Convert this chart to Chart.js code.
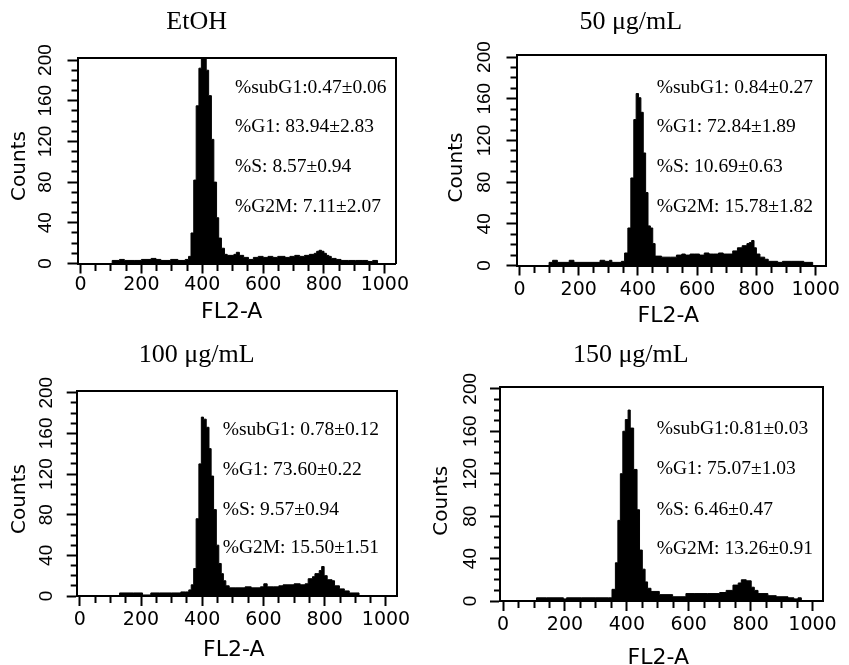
<!DOCTYPE html>
<html>
<head>
<meta charset="utf-8">
<script src="https://cdn.jsdelivr.net/npm/chart.js@4.4.1/dist/chart.umd.min.js"></script>
<style>
html,body{margin:0;padding:0;background:#fff;}
body{width:849px;height:665px;position:relative;overflow:hidden;}
canvas{position:absolute;display:block;}
</style>
</head>
<body>
<canvas id="c0"></canvas>
<canvas id="c1"></canvas>
<canvas id="c2"></canvas>
<canvas id="c3"></canvas>
<script>
// ---------------- data ----------------
const panelTitles = ['EtOH', '50 μg/mL', '100 μg/mL', '150 μg/mL'];
const xTitle = 'FL2-A';
const yTitle = 'Counts';

const xTickValues = [0,50,100,150,200,250,300,350,400,450,500,550,600,650,700,750,800,850,900,950,1000];
const xTickLabels = [0,200,400,600,800,1000];
const yTickValues = [0,10,20,30,40,50,60,70,80,90,100,110,120,130,140,150,160,170,180,190,200];
const yTickLabels = [0,40,80,120,160,200];

const statsEtOH = ['%subG1:0.47±0.06', '%G1: 83.94±2.83', '%S: 8.57±0.94', '%G2M: 7.11±2.07'];
const stats50   = ['%subG1: 0.84±0.27', '%G1: 72.84±1.89', '%S: 10.69±0.63', '%G2M: 15.78±1.82'];
const stats100  = ['%subG1: 0.78±0.12', '%G1: 73.60±0.22', '%S: 9.57±0.94', '%G2M: 15.50±1.51'];
const stats150  = ['%subG1:0.81±0.03', '%G1: 75.07±1.03', '%S: 6.46±0.47', '%G2M: 13.26±0.91'];

// histogram bins: channel where a bin starts, and its count
const chanEtOH  = [0,104,128,144,176,200,232,248,264,296,320,344,355,363,372,380,389,397,405,413,421,430,438,447,454,463,473,482,504,512,522,536,552,568,584,600,616,632,648,672,688,704,720,736,752,768,776,784,792,800,808,816,824,840,856,880,904,928,944,960,976,1023];
const countEtOH = [0,3,4,3,3,4,5,4,3,4,3,4,7,30,82,155,192,201,203,190,165,122,80,45,25,15,9,8,9,11,8,6,4,6,7,6,7,6,7,6,7,8,7,8,9,10,12,13,12,10,8,7,5,4,3,3,3,3,2,3,0,0];

const chan50  = [0,100,112,128,168,184,272,288,304,312,344,355,366,376,386,394,402,410,418,426,434,442,450,458,480,510,530,548,560,576,592,608,624,640,656,672,688,704,720,736,752,768,776,784,792,800,812,828,840,872,888,920,944,960,990,1023];
const count50 = [0,3,5,3,5,3,5,4,5,3,4,12,36,84,140,165,161,147,108,70,38,36,21,9,8,8,10,11,10,11,11,10,12,11,11,12,11,11,14,17,19,21,22,24,17,11,8,6,4,3,4,4,4,3,0,0];

const chan100  = [0,130,176,205,232,260,300,330,345,356,364,372,380,389,397,404,413,422,429,437,446,454,462,469,477,488,510,540,560,590,601,612,632,650,664,680,700,720,736,746,760,768,782,790,798,808,824,832,848,864,880,912,1023];
const count100 = [0,3,3,1,3,3,3,4,4,6,11,27,76,130,176,174,166,145,118,85,50,32,22,15,10,8,8,9,8,9,12,9,9,10,11,11,12,11,12,17,19,22,25,29,20,16,15,10,7,5,3,0,0];

const chan150  = [0,108,140,195,205,254,300,340,352,363,371,379,387,395,404,411,422,433,441,450,459,467,478,505,548,591,620,660,700,721,743,760,770,786,802,812,824,856,883,921,940,953,964,1023];
const count150 = [0,3,3,2,3,3,3,3,11,36,76,120,160,171,180,163,124,86,48,30,18,12,9,6,4,7,7,7,8,10,15,17,20,19,13,10,7,5,4,3,2,3,0,0];

// ---------------- layout / style ----------------
const X_MIN = -10, X_MAX = 1035, Y_MIN = 0, Y_MAX = 202;
const TICK_LEN = 10;
const FONT_SANS = "'DejaVu Sans', sans-serif";
const FONT_NARROW = "'Liberation Sans Narrow', 'Liberation Sans', Arial, sans-serif";
const FONT_SERIF = "'Liberation Serif', 'Times New Roman', serif";
const Y_TICK_SIZE = 19;

const panels = [
  {id:'c0', cx:0,   cy:0,   w:424, h:332, box:[77.5,58,395.5,263.5],  title:[196.7,21.7], statsX:235,   statsY:[88.3,127.3,167.3,207.3], yT:[20,166],    xT:[231.7,312.5], yLabelX:45.5,   xPad:0.5, chan:chanEtOH, count:countEtOH, stats:statsEtOH},
  {id:'c1', cx:425, cy:0,   w:424, h:332, box:[516.5,55,826,265.5],   title:[630.8,22],   statsX:656.7, statsY:[88.3,127.3,167.3,206.7], yT:[456.7,167.5], xT:[668.3,315.8], yLabelX:484.3, xPad:3, chan:chan50, count:count50, stats:stats50},
  {id:'c2', cx:0,   cy:332, w:424, h:333, box:[76.7,390.7,396.7,596], title:[196.7,355],  statsX:222.7, statsY:[430,470,510,548.3],     yT:[20,499],     xT:[233.8,650],   yLabelX:47,   xPad:2.6, chan:chan100, count:count100, stats:stats100},
  {id:'c3', cx:425, cy:332, w:424, h:333, box:[500,386.7,823.3,601],  title:[630.8,355],  statsX:656.7, statsY:[429.3,469.3,510,549.3], yT:[441.7,500.8], xT:[658.3,658],   yLabelX:470.5, xPad:2.6, chan:chan150, count:count150, stats:stats150}
];

const panelTextPlugin = {
  id: 'panelText',
  afterDraw(chart, args, o) {
    const ctx = chart.ctx;
    ctx.save();
    ctx.fillStyle = '#000';
    ctx.textBaseline = 'middle';
    ctx.textAlign = 'center';
    ctx.font = '26px ' + FONT_SERIF;
    ctx.fillText(o.title, o.titleX, o.titleY);
    ctx.textAlign = 'left';
    ctx.font = '19.5px ' + FONT_SERIF;
    o.stats.forEach((s, i) => ctx.fillText(s, o.statsX, o.statsY[i]));
    ctx.textAlign = 'center';
    ctx.font = '22px ' + FONT_SANS;
    ctx.fillText(xTitle, o.xTitleX, o.xTitleY);
    ctx.translate(o.yTitleX, o.yTitleY);
    ctx.rotate(-Math.PI / 2);
    ctx.font = '20px ' + FONT_SANS;
    ctx.fillText(yTitle, 0, 0);
    ctx.restore();
  }
};

const measureCtx = document.createElement('canvas').getContext('2d');
measureCtx.font = 'normal ' + Y_TICK_SIZE + 'px ' + FONT_NARROW;
const widestY = Math.max(...yTickLabels.map(v => measureCtx.measureText(String(v)).width));

panels.forEach((p, idx) => {
  const canvas = document.getElementById(p.id);
  canvas.width = p.w; canvas.height = p.h;
  canvas.style.left = p.cx + 'px'; canvas.style.top = p.cy + 'px';
  const bl = p.box[0] - p.cx, bt = p.box[1] - p.cy, br = p.box[2] - p.cx, bb = p.box[3] - p.cy;
  const yPad = bl - TICK_LEN - widestY / 2 - (p.yLabelX - p.cx);
  const blackBorder = {display: true, width: 2, color: '#000'};

  new Chart(canvas, {
    type: 'line',
    data: {
      datasets: [{
        data: p.chan.map((x, i) => ({x: x, y: p.count[i]})),
        stepped: 'before',
        fill: 'origin',
        backgroundColor: '#000',
        borderColor: '#000',
        borderWidth: 1,
        pointRadius: 0
      }]
    },
    options: {
      responsive: false,
      animation: false,
      events: [],
      layout: {padding: {left: 0, top: bt, right: p.w - br, bottom: 0}},
      plugins: {
        legend: {display: false},
        tooltip: {enabled: false},
        title: {display: false},
        panelText: {
          title: panelTitles[idx], titleX: p.title[0] - p.cx, titleY: p.title[1] - p.cy,
          stats: p.stats, statsX: p.statsX - p.cx, statsY: p.statsY.map(v => v - p.cy),
          xTitleX: p.xT[0] - p.cx, xTitleY: p.xT[1] - p.cy,
          yTitleX: p.yT[0] - p.cx, yTitleY: p.yT[1] - p.cy
        }
      },
      scales: {
        x: {
          type: 'linear', position: 'bottom', min: X_MIN, max: X_MAX,
          afterBuildTicks: s => { s.ticks = xTickValues.map(v => ({value: v})); },
          afterFit: s => { s.height = p.h - bb; s.paddingLeft = 0; s.paddingRight = 0; },
          ticks: {
            autoSkip: false, maxRotation: 0, minRotation: 0, padding: p.xPad, color: '#000',
            font: {family: FONT_SANS, size: 19},
            callback: v => xTickLabels.includes(v) ? String(v) : ''
          },
          grid: {
            drawOnChartArea: false, drawTicks: true, tickLength: TICK_LEN, tickWidth: 2, tickColor: '#000',
            tickBorderDash: c => (c.tick && xTickLabels.includes(c.tick.value)) ? [] : [6, 30]
          },
          border: blackBorder
        },
        y: {
          type: 'linear', position: 'left', min: Y_MIN, max: Y_MAX,
          afterBuildTicks: s => { s.ticks = yTickValues.map(v => ({value: v})); },
          afterFit: s => { s.width = bl; s.paddingTop = 0; s.paddingBottom = 0; },
          ticks: {
            autoSkip: false, minRotation: 90, maxRotation: 90, crossAlign: 'center', padding: yPad, color: '#000',
            font: {family: FONT_NARROW, size: Y_TICK_SIZE},
            callback: v => yTickLabels.includes(v) ? String(v) : ''
          },
          grid: {
            drawOnChartArea: false, drawTicks: true, tickLength: TICK_LEN, tickWidth: 2, tickColor: '#000',
            tickBorderDash: c => (c.tick && yTickLabels.includes(c.tick.value)) ? [] : [0, 4, 30]
          },
          border: blackBorder
        },
        xTop: {
          type: 'linear', position: 'top', min: X_MIN, max: X_MAX,
          ticks: {display: false}, grid: {display: false, drawTicks: false},
          border: blackBorder,
          afterFit: s => { s.height = 0; s.paddingLeft = 0; s.paddingRight = 0; }
        },
        yRight: {
          type: 'linear', position: 'right', min: Y_MIN, max: Y_MAX,
          ticks: {display: false}, grid: {display: false, drawTicks: false},
          border: blackBorder,
          afterFit: s => { s.width = 0; s.paddingTop = 0; s.paddingBottom = 0; }
        }
      }
    },
    plugins: [panelTextPlugin]
  });
});
</script>
</body>
</html>
